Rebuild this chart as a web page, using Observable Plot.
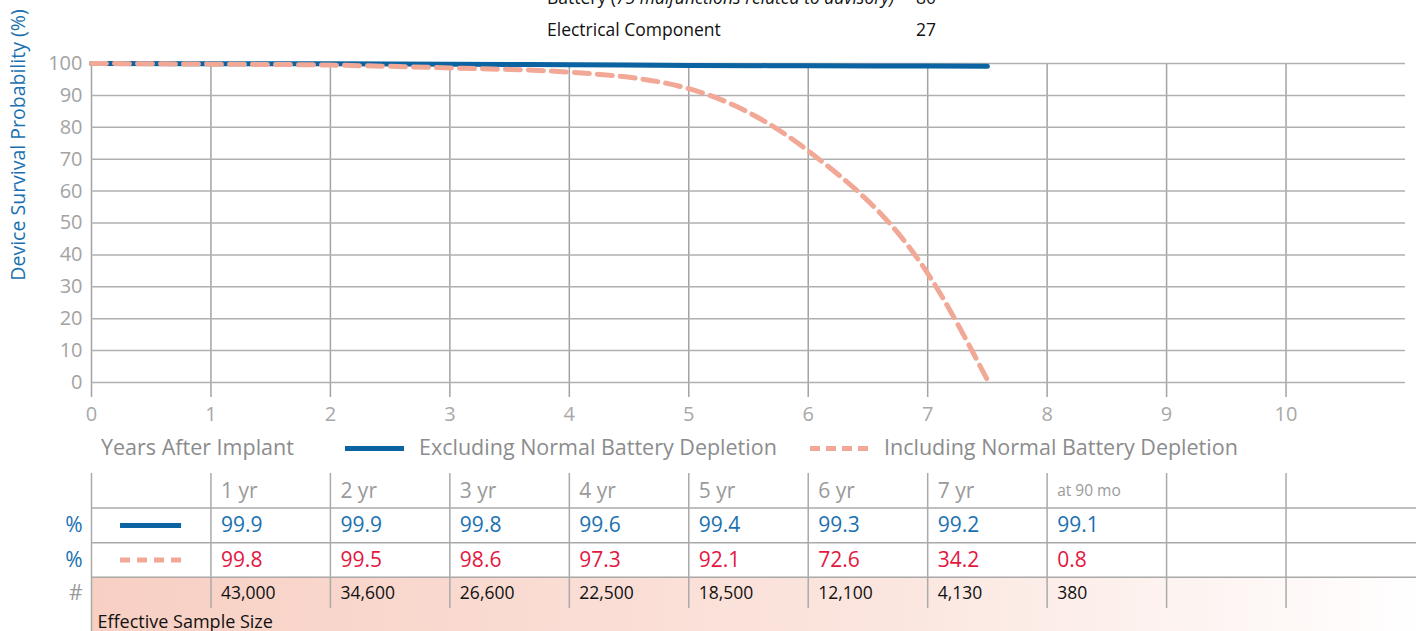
<!DOCTYPE html>
<html><head><meta charset="utf-8">
<script src="https://cdn.jsdelivr.net/npm/d3@7"></script>
<script src="https://cdn.jsdelivr.net/npm/@observablehq/plot@0.6"></script>
<style>
html,body{margin:0;padding:0;background:#fff;width:1416px;height:631px;overflow:hidden;position:relative;font-family:"Open Sans",sans-serif;}
.abs{position:absolute;white-space:nowrap;}
svg{position:absolute;left:0;}
</style></head><body>
<script>
// ---- data ----
const years = [0, 1, 2, 3, 4, 5, 6, 7, 7.5];
const excluding = [100, 99.9, 99.9, 99.8, 99.6, 99.4, 99.3, 99.2, 99.1];
const including = [100, 99.8, 99.5, 98.6, 97.3, 92.1, 72.6, 34.2, 0.8];
const columnLabels = ["1 yr", "2 yr", "3 yr", "4 yr", "5 yr", "6 yr", "7 yr", "at 90 mo"];
const excludingRow = ["99.9", "99.9", "99.8", "99.6", "99.4", "99.3", "99.2", "99.1"];
const includingRow = ["99.8", "99.5", "98.6", "97.3", "92.1", "72.6", "34.2", "0.8"];
const sampleSize = ["43,000", "34,600", "26,600", "22,500", "18,500", "12,100", "4,130", "380"];
const xTicks = [0, 1, 2, 3, 4, 5, 6, 7, 8, 9, 10];
const yTicks = [0, 10, 20, 30, 40, 50, 60, 70, 80, 90, 100];
const seriesNames = ["Excluding Normal Battery Depletion", "Including Normal Battery Depletion"];
const xLabel = "Years After Implant";
const yLabel = "Device Survival Probability (%)";

const BLUE = "#0b63a1", PINK = "#f2a896", BLUE_TXT = "#1a70b0", RED_TXT = "#e3173f";
const FONT = "'Open Sans', sans-serif";

const curve = years.map((y, i) => ({year: y, excl: excluding[i], incl: including[i]}));

// ---- top text (cut-off table above) ----
document.body.insertAdjacentHTML("beforeend", `
<div class="abs" style="left:547px;top:-15px;font-size:17.5px;color:#111;">Battery (<i>75 malfunctions related to advisory)</i></div>
<div class="abs" style="left:916px;top:-15px;font-size:17.5px;color:#111;">80</div>
<div class="abs" style="left:547px;top:17px;font-size:17.5px;color:#111;">Electrical Component</div>
<div class="abs" style="left:916px;top:17px;font-size:17.5px;color:#111;">27</div>
<div class="abs" style="left:17px;top:145px;font-size:19.5px;color:${BLUE_TXT};transform:translate(-50%,-50%) rotate(-90deg);">${yLabel}</div>
`);

// ---- chart ----
const chart = Plot.plot({
  width: 1416, height: 440,
  marginLeft: 91, marginRight: 11, marginTop: 63, marginBottom: 58,
  x: {domain: [0, 11]},
  y: {domain: [0, 100]},
  style: {fontFamily: FONT, background: "transparent", overflow: "visible"},
  marks: [
    Plot.ruleX(xTicks, {x: d => d, y1: -4.7, y2: 100, stroke: "#a3a3a3", strokeWidth: 1.5}),
    Plot.ruleY(yTicks, {y: d => d, x1: 0, x2: 11, stroke: "#b0b0b0", strokeWidth: 1.5}),
    Plot.axisY({ticks: yTicks, tickSize: 0, tickPadding: 9, fontSize: 20, color: "#a3a3a3", label: null}),
    Plot.axisX({ticks: xTicks, tickSize: 0, tickPadding: 24, fontSize: 20, color: "#a8a8a8", label: null}),
    Plot.line(curve, {x: "year", y: "excl", stroke: BLUE, strokeWidth: 5, curve: "monotone-x"}),
    Plot.line(curve, {x: "year", y: "incl", stroke: PINK, strokeWidth: 5, strokeDasharray: "15,8", curve: "monotone-x"})
  ]
});
chart.style.top = "0px";
document.body.appendChild(chart);

// ---- legend ----
document.body.insertAdjacentHTML("beforeend", `
<div class="abs" style="left:101px;top:432px;font-size:21.5px;color:#8c8c8c;">${xLabel}</div>
<div class="abs" style="left:345px;top:446px;width:59px;height:5px;background:${BLUE};"></div>
<div class="abs" style="left:419px;top:432px;font-size:21.5px;color:#8c8c8c;">${seriesNames[0]}</div>
<div class="abs" style="left:810px;top:446px;width:60px;height:5px;background:repeating-linear-gradient(90deg,${PINK} 0 10px,transparent 10px 16px);"></div>
<div class="abs" style="left:884px;top:432px;font-size:21.5px;color:#8c8c8c;">${seriesNames[1]}</div>
`);

// ---- table ----
const RH = 34.6;
const tH = 631 - 473;
const cols = columnLabels.map((c, i) => ({x: i + 1, head: c, ex: excludingRow[i], inc: includingRow[i], n: sampleSize[i]}));
const table = Plot.plot({
  width: 1416, height: tH,
  marginLeft: 91, marginRight: 11, marginTop: 0, marginBottom: 0,
  x: {domain: [0, 11], axis: null},
  y: {domain: [0, tH / RH], range: [0, tH], axis: null},
  style: {fontFamily: FONT, background: "transparent", overflow: "visible"},
  marks: [
    Plot.rect([0], {x1: 0, x2: 11.2, y1: 3, y2: tH / RH, fill: "url(#salmonGrad)"}),
    Plot.ruleY([1, 2, 3], {y: d => d, x1: 0, x2: 11.2, stroke: "#aaaaaa", strokeWidth: 1.5}),
    Plot.ruleX(xTicks.slice(1), {x: d => d, y1: 0, y2: 3.9, stroke: "#aaaaaa", strokeWidth: 1.5}),
    Plot.ruleX([0], {x: d => d, y1: 0, y2: tH / RH, stroke: "#aaaaaa", strokeWidth: 1.5}),
    Plot.text(cols, {x: "x", y: 0.5, text: "head", dx: 10, textAnchor: "start", fill: "#9a9a9a",
      fontSize: d => d.head.length > 4 ? 15.5 : 21}),
    Plot.text(cols, {x: "x", y: 1.5, text: "ex", dx: 10, textAnchor: "start", fill: BLUE_TXT, fontSize: 21}),
    Plot.text(cols, {x: "x", y: 2.5, text: "inc", dx: 10, textAnchor: "start", fill: RED_TXT, fontSize: 21}),
    Plot.text(cols, {x: "x", y: 3.47, text: "n", dx: 10, textAnchor: "start", fill: "#111", fontSize: 17.5}),
    Plot.text(["%", "%", "#"], {x: 0, y: (d, i) => i + 1.5 - (i === 2 ? 0.03 : 0), text: d => d, dx: -9, textAnchor: "end",
      fill: (d, i) => i < 2 ? BLUE_TXT : "#999", fontSize: 21}),
    Plot.ruleY([1.5], {y: d => d, x1: 0.243, x2: 0.754, stroke: BLUE, strokeWidth: 5}),
    Plot.ruleY([2.5], {y: d => d, x1: 0.243, x2: 0.754, stroke: PINK, strokeWidth: 5, strokeDasharray: "10,7"}),
    Plot.text(["Effective Sample Size"], {x: 0, y: 4.3, text: d => d, dx: 6, textAnchor: "start", fill: "#111", fontSize: 18})
  ]
});
table.style.top = "473px";
const defs = d3.select(table).insert("defs", ":first-child");
const g = defs.append("linearGradient").attr("id", "salmonGrad").attr("x1", "0").attr("x2", "1").attr("y1", "0").attr("y2", "0");
g.append("stop").attr("offset", "0").attr("stop-color", "#f8cfc3");
g.append("stop").attr("offset", "0.6").attr("stop-color", "#fbe6df");
g.append("stop").attr("offset", "1").attr("stop-color", "#ffffff");
document.body.appendChild(table);
</script>
</body></html>
